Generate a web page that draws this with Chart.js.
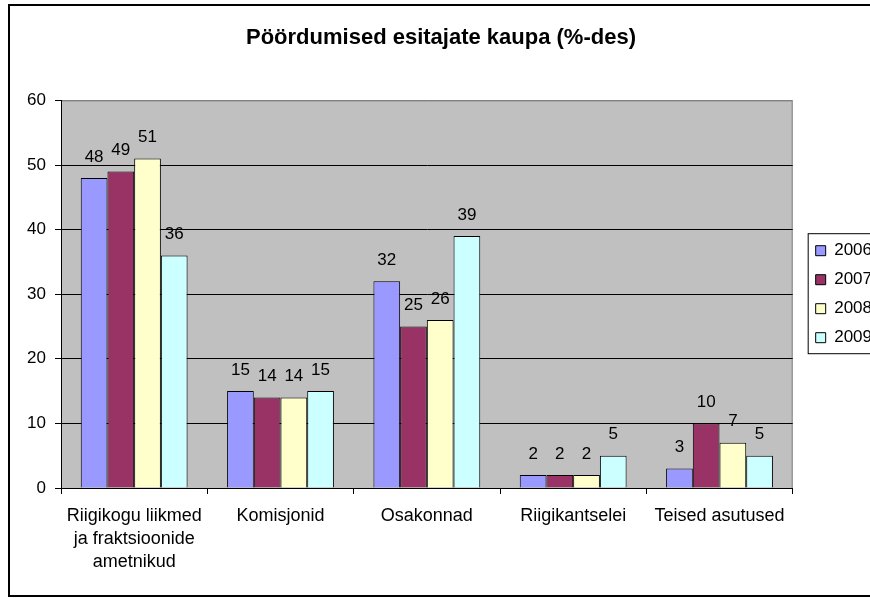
<!DOCTYPE html>
<html>
<head>
<meta charset="utf-8">
<script src="https://cdn.jsdelivr.net/npm/chart.js@4"></script>
<style>
  body { margin: 0; background: #fff; overflow: hidden; }
  #wrap { width: 870px; height: 598px; overflow: hidden; }
</style>
</head>
<body>
<div id="wrap"><canvas id="barChart" width="882" height="598"></canvas></div>
<script>
// Data
const categories = [
    ['Riigikogu liikmed', 'ja fraktsioonide', 'ametnikud'],
    'Komisjonid',
    'Osakonnad',
    'Riigikantselei',
    'Teised asutused'
];
const years = ['2006', '2007', '2008', '2009'];
const values2006 = [48, 15, 32, 2, 3];
const values2007 = [49, 14, 25, 2, 10];
const values2008 = [51, 14, 26, 2, 7];
const values2009 = [36, 15, 39, 5, 5];
const yTicks = [0, 10, 20, 30, 40, 50, 60];

const colors = ['#9999FF', '#993366', '#FFFFCC', '#CCFFFF'];
const FONT = 'Liberation Sans, Arial, sans-serif';

// gray plot area, outer frame, legend frame
const frames = {
    id: 'frames',
    beforeDraw(chart) {
        const {ctx, chartArea: a} = chart;
        ctx.save();
        ctx.fillStyle = '#C0C0C0';
        ctx.fillRect(a.left, a.top, a.right - a.left, a.bottom - a.top);
        ctx.strokeStyle = '#808080';
        ctx.lineWidth = 1;
        ctx.beginPath();
        ctx.moveTo(a.left, a.top + 0.5);
        ctx.lineTo(a.right - 0.5, a.top + 0.5);
        ctx.lineTo(a.right - 0.5, a.bottom);
        ctx.stroke();
        ctx.restore();
    },
    afterDraw(chart) {
        const {ctx} = chart;
        ctx.save();
        ctx.strokeStyle = '#000';
        ctx.lineWidth = 2;
        ctx.strokeRect(9, 5, 865, 591);
        const boxes = chart.legend.legendHitBoxes;
        if (boxes && boxes.length) {
            const top = boxes[0].top - 9;
            const last = boxes[boxes.length - 1];
            const bottom = last.top + last.height + 7;
            ctx.lineWidth = 1;
            ctx.strokeRect(chart.legend.left + 4.5, top + 0.5, 200, bottom - top);
        }
        ctx.restore();
    }
};

// value labels above the bars
const valueLabels = {
    id: 'valueLabels',
    afterDatasetsDraw(chart) {
        const {ctx} = chart;
        ctx.save();
        ctx.font = '17px ' + FONT;
        ctx.fillStyle = '#000';
        ctx.textAlign = 'center';
        ctx.textBaseline = 'middle';
        chart.data.datasets.forEach((ds, i) => {
            chart.getDatasetMeta(i).data.forEach((bar, j) => {
                ctx.fillText(ds.data[j], bar.x, bar.y - 21);
            });
        });
        ctx.restore();
    }
};

const ctx = document.getElementById('barChart').getContext('2d');
const barChart = new Chart(ctx, {
    type: 'bar',
    data: {
        labels: categories,
        datasets: [values2006, values2007, values2008, values2009].map((vals, i) => ({
            label: years[i],
            data: vals,
            backgroundColor: colors[i],
            borderColor: '#000',
            borderWidth: 1,
            categoryPercentage: 0.73,
            barPercentage: 1
        }))
    },
    options: {
        responsive: false,
        animation: false,
        layout: { padding: 0 },
        plugins: {
            title: {
                display: true,
                text: 'Pöördumised esitajate kaupa (%-des)',
                color: '#000',
                font: { family: FONT, size: 22, weight: 'bold', lineHeight: 1.2 },
                padding: { top: 25, bottom: 49 }
            },
            legend: {
                position: 'right',
                fullSize: false,
                align: 'center',
                labels: {
                    color: '#000',
                    font: { family: FONT, size: 17 },
                    boxWidth: 10,
                    boxHeight: 10,
                    padding: 12
                }
            },
            tooltip: { enabled: false }
        },
        scales: {
            x: {
                afterFit(scale) { scale.height = 110; },
                grid: {
                    offset: true,
                    drawOnChartArea: false,
                    drawTicks: true,
                    tickLength: 6,
                    color: '#000'
                },
                border: { color: '#000', width: 1 },
                ticks: {
                    color: '#000',
                    font: { family: FONT, size: 18, lineHeight: 1.3 },
                    padding: 10,
                    maxRotation: 0,
                    autoSkip: false
                }
            },
            y: {
                min: 0,
                max: 60,
                afterFit(scale) { scale.width = 61; },
                afterBuildTicks(scale) { scale.ticks = yTicks.map(v => ({ value: v })); },
                grid: {
                    color: c => (c.tick && c.tick.value === 60 ? '#808080' : '#000'),
                    tickColor: '#000',
                    tickLength: 6
                },
                border: { color: '#000', width: 1 },
                ticks: {
                    color: '#000',
                    font: { family: FONT, size: 17 },
                    padding: 9
                }
            },
            yRight: {
                position: 'right',
                afterFit(scale) { scale.width = 11; },
                grid: { display: false },
                border: { display: false },
                ticks: { display: false }
            }
        }
    },
    plugins: [frames, valueLabels]
});
</script>
</body>
</html>
